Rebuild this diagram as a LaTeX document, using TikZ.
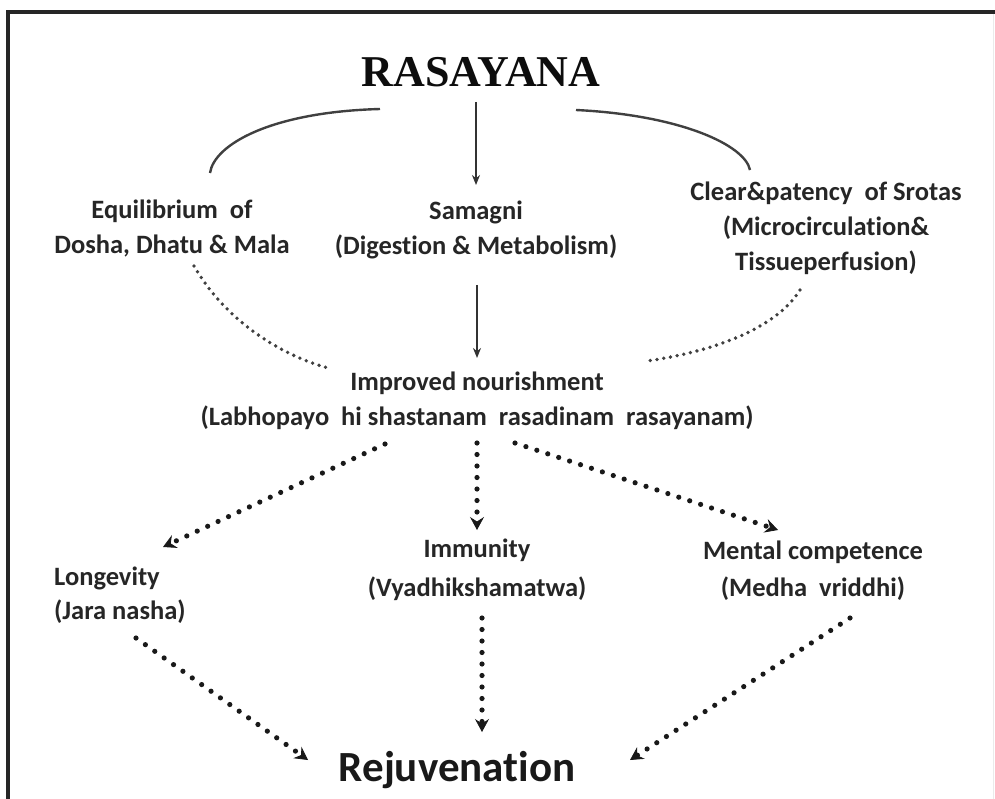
\documentclass[tikz,border=0pt]{standalone}
\usepackage{fontspec}
\setmainfont{Liberation Serif}
\newfontfamily\calfont[Ligatures=NoCommon]{Carlito}
\usetikzlibrary{arrows.meta}
\begin{document}
\begin{tikzpicture}[x=1pt,y=-1pt,
  lbl/.style={font=\calfont\bfseries\fontsize{26.5}{35}\selectfont, text=black!85, align=center, inner sep=0pt},
  solidarr/.style={line width=2.2pt, draw=black!80, -{Stealth[length=10pt,width=8pt]}},
  arcline/.style={line width=2.4pt, draw=black!75},
  finedots/.style={line width=3.8pt, line cap=round, dash pattern=on 0pt off 6.8pt, draw=black!75},
  bigdots/.style={line width=5.2pt, line cap=round, dash pattern=on 0pt off 11.5pt, draw=black!90,
     -{Stealth[length=13pt,width=14pt,inset=4.5pt,line width=0.8pt]}},
]
\useasboundingbox (0,0) rectangle (995,799);
% frame
\draw[line width=3.2pt, black!85] (8,799) -- (8,12) -- (995,12);
\draw[line width=1pt, black!8] (993,14) -- (993,799);

% nodes
\node[font=\bfseries\fontsize{44}{50}\selectfont, text=black!95, inner sep=0pt] (ras) at (481,72) {RASAYANA};
\node[lbl] (eq) at (172,228) {Equilibrium\ \ of\\Dosha, Dhatu \& Mala};
\node[lbl] (sam) at (476,230) {Samagni\\(Digestion \& Metabolism)};
\node[lbl] (clr) at (826,228) {Clear\&patency\ \ of Srotas\\(Microcirculation\&\\Tissueperfusion)};
\node[lbl] (imp) at (477,401) {Improved nourishment\\(Labhopayo\ \ hi shastanam\ \ rasadinam\ \ rasayanam)};
\node[lbl, align=left, anchor=west, font=\calfont\bfseries\fontsize{26.5}{34}\selectfont] (lon) at (54,595) {Longevity\\(Jara nasha)};
\node[lbl, font=\calfont\bfseries\fontsize{26.5}{39}\selectfont] (imm) at (477,570) {Immunity\\(Vyadhikshamatwa)};
\node[lbl, font=\calfont\bfseries\fontsize{26.5}{37}\selectfont] (men) at (813,571) {Mental competence\\(Medha\ \ vriddhi)};
\node[font=\calfont\bfseries\fontsize{43}{50}\selectfont, text=black!90, inner sep=0pt] (rej) at (457,770) {Rejuvenation};

% connector end points
\coordinate (rasL) at (380,109);
\coordinate (rasR) at (576,110);
\coordinate (rasB) at (476,102);
\coordinate (eqT) at (210,173);
\coordinate (clrT) at (750,170);
\coordinate (samT) at (476,185);
\coordinate (samB) at (477,285);
\coordinate (impT) at (477,358);
\coordinate (eqB) at (194,266);
\coordinate (clrB) at (800,290);
\coordinate (impL) at (328,368);
\coordinate (impR) at (647,361);
\coordinate (impBL) at (385,444);
\coordinate (impBM) at (477,443);
\coordinate (impBR) at (515,443);
\coordinate (lonT) at (163,547);
\coordinate (immT) at (477,530);
\coordinate (menT) at (778,530);
\coordinate (lonB) at (136,638);
\coordinate (immB) at (482,618);
\coordinate (menB) at (850,618);
\coordinate (rejL) at (308,760);
\coordinate (rejT) at (482,732);
\coordinate (rejR) at (630,760);

% connectors
\draw[arcline] (rasL) .. controls (270,112) and (214,145) .. (eqT);
\draw[arcline] (rasR) .. controls (680,115) and (745,145) .. (clrT);
\draw[solidarr] (rasB) -- (samT);
\draw[solidarr] (samB) -- (impT);
\draw[finedots] (eqB) .. controls (225,320) and (280,355) .. (impL);
\draw[finedots] (clrB) .. controls (775,330) and (710,352) .. (impR);
\draw[bigdots] (impBL) -- (lonT);
\draw[bigdots] (impBM) -- (immT);
\draw[bigdots] (impBR) -- (menT);
\draw[bigdots] (lonB) -- (rejL);
\draw[bigdots] (immB) -- (rejT);
\draw[bigdots] (menB) -- (rejR);
\end{tikzpicture}
\end{document}
